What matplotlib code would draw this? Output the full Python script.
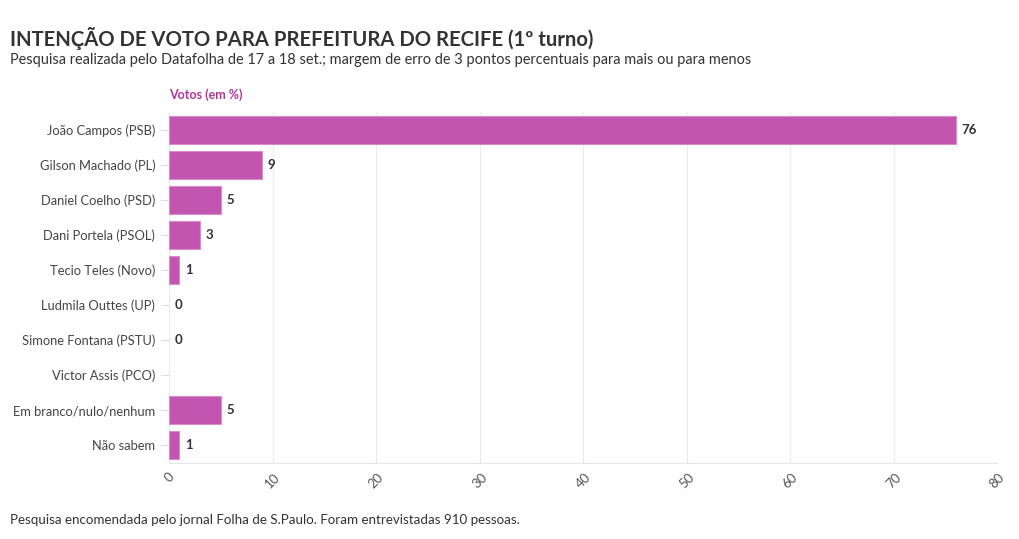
import numpy as np
import matplotlib.pyplot as plt

# ---------------------------------------------------------
# Data
# ---------------------------------------------------------
candidates = [
    "João Campos (PSB)",
    "Gilson Machado (PL)",
    "Daniel Coelho (PSD)",
    "Dani Portela (PSOL)",
    "Tecio Teles (Novo)",
    "Ludmila Outtes (UP)",
    "Simone Fontana (PSTU)",
    "Victor Assis (PCO)",
    "Em branco/nulo/nenhum",
    "Não sabem",
]
votes = [76, 9, 5, 3, 1, 0, 0, np.nan, 5, 1]
x_ticks = [0, 10, 20, 30, 40, 50, 60, 70, 80]

title = "INTENÇÃO DE VOTO PARA PREFEITURA DO RECIFE (1º turno)"
subtitle = ("Pesquisa realizada pelo Datafolha de 17 a 18 set.; margem de erro "
            "de 3 pontos percentuais para mais ou para menos")
axis_title = "Votos (em %)"
footer = "Pesquisa encomendada pelo jornal Folha de S.Paulo. Foram entrevistadas 910 pessoas."

plt.rcParams["font.family"] = ["Lato", "DejaVu Sans"]

BAR = "#c255b0"
TEXT = "#333333"
GREY = "#555555"

fig = plt.figure(figsize=(10.2, 5.39), dpi=100)
ax = fig.add_axes([0.1657, 0.1419, 0.8118, 0.6494])

y = np.arange(len(candidates))
vals = np.array(votes, dtype=float)
widths = np.nan_to_num(vals)
edge_w = [0.8 if w > 0 else 0 for w in widths]
ax.barh(y, widths, height=0.8, color=BAR, edgecolor="#d98ccc",
        linewidth=edge_w, zorder=2)

for yi, v in zip(y, vals):
    if np.isnan(v):
        continue
    ax.annotate(f"{v:.0f}", xy=(v, yi), xytext=(4, 0), textcoords="offset points",
                va="center", ha="left", fontsize=9.5, fontweight="bold", color=TEXT)

ax.set_xlim(0, 80)
ax.set_ylim(len(candidates) - 0.5, -0.5)
ax.set_yticks(y)
ax.set_yticklabels(candidates, fontsize=9.3, color="#444444")
ax.set_xticks(x_ticks)
ax.set_xticklabels([str(t) for t in x_ticks], rotation=45, ha="center",
                   fontsize=9.5, color=GREY)

ax.tick_params(axis="y", length=6, color="#dddddd", pad=4)
ax.tick_params(axis="x", length=0, pad=6)
ax.grid(axis="x", color="#ebebeb", linewidth=0.8, zorder=0)
ax.set_axisbelow(True)
for side in ["top", "right", "left"]:
    ax.spines[side].set_visible(False)
ax.spines["bottom"].set_color("#e6e6e6")

fig.text(0.0098, 0.929, title, fontsize=14.6, fontweight="bold", color=TEXT,
         ha="left", va="center")
fig.text(0.0098, 0.889, subtitle, fontsize=10.45, color=TEXT, ha="left", va="center")
fig.text(0.1657, 0.824, axis_title, fontsize=9, fontweight="bold", color="#b0359f",
         ha="left", va="center")
fig.text(0.0098, 0.036, footer, fontsize=9.6, color=TEXT, ha="left", va="center")

fig.savefig("out.png", dpi=100)
